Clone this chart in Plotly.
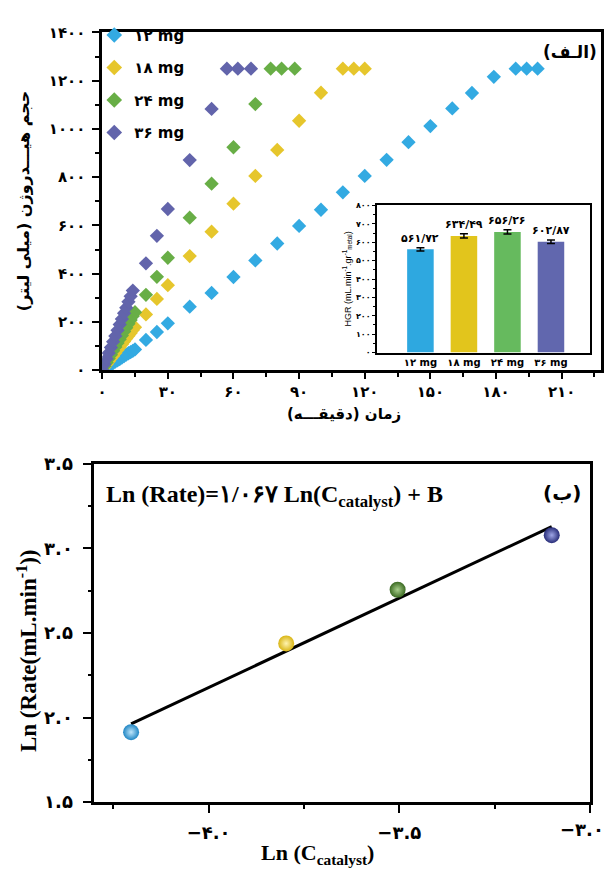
import numpy as np
import plotly.graph_objects as go

W, H = 606, 870

# ---------------- Top chart: hydrogen volume (mL) vs time (min) ----------------
t_12 = [0, 1, 2, 3, 4, 5, 6, 7, 8, 9, 10, 11, 12, 13, 14, 15, 20, 25, 30, 40, 50, 60,
        70, 80, 90, 100, 110, 120, 130, 140, 150, 160, 169, 179, 189, 194, 199]
v_12 = [0, 6, 12, 17, 23, 29, 35, 40, 46, 52, 58, 64, 70, 75, 80, 86, 125, 158, 194, 263, 320, 386,
        455, 525, 598, 665, 737, 805, 872, 945, 1012, 1085, 1149, 1216, 1250, 1250, 1250]

t_18 = [0, 1, 2, 3, 4, 5, 6, 7, 8, 9, 10, 11, 12, 13, 14, 15, 20, 25, 30, 40, 50, 60,
        70, 80, 90, 100, 110, 115, 120]
v_18 = [0, 12, 24, 36, 48, 59, 71, 83, 95, 107, 119, 131, 142, 154, 166, 178, 231, 295, 352, 473, 574, 690,
        805, 913, 1034, 1150, 1250, 1250, 1250]

t_24 = [0, 1, 2, 3, 4, 5, 6, 7, 8, 9, 10, 11, 12, 13, 14, 15, 20, 25, 30, 40, 50, 60,
        70, 77, 82, 88]
v_24 = [0, 16, 32, 48, 64, 80, 96, 112, 128, 144, 160, 176, 192, 208, 224, 240, 312, 387, 466, 632, 773, 924,
        1103, 1250, 1250, 1250]

t_36 = [0, 1, 2, 3, 4, 5, 6, 7, 8, 9, 10, 11, 12, 13, 14, 20, 25, 30, 40, 50, 57, 62, 68]
v_36 = [0, 24, 47, 71, 94, 118, 141, 165, 189, 212, 236, 259, 283, 306, 330, 443, 557, 668, 871, 1083,
        1250, 1250, 1250]

series_names = ["۱۲ mg", "۱۸ mg", "۲۴ mg", "۳۶ mg"]
series_colors = ["#33aae2", "#e6c62c", "#68ae46", "#6264ab"]

x_tickvals = [0, 30, 60, 90, 120, 150, 180, 210]
x_ticktext = ["۰", "۳۰", "۶۰", "۹۰", "۱۲۰", "۱۵۰", "۱۸۰", "۲۱۰"]
y_tickvals = [0, 200, 400, 600, 800, 1000, 1200, 1400]
y_ticktext = ["۰", "۲۰۰", "۴۰۰", "۶۰۰", "۸۰۰", "۱۰۰۰", "۱۲۰۰", "۱۴۰۰"]

# ---------------- Inset: HGR bar chart ----------------
hgr_pos = [0, 1, 2, 3]
hgr_cats = ["۱۲ mg", "۱۸ mg", "۲۴ mg", "۳۶ mg"]
hgr_vals = [561.72, 634.49, 656.26, 602.87]
hgr_err = [9, 12, 12, 10]
hgr_labels = ["۵۶۱/۷۲", "۶۳۴/۴۹", "۶۵۶/۲۶", "۶۰۲/۸۷"]
hgr_colors = ["#2ea8e0", "#e2c51c", "#66ba5e", "#6167ae"]
inset_tickvals = [0, 100, 200, 300, 400, 500, 600, 700, 800]
inset_ticktext = ["۰", "۱۰۰", "۲۰۰", "۳۰۰", "۴۰۰", "۵۰۰", "۶۰۰", "۷۰۰", "۸۰۰"]

# ---------------- Bottom chart: Ln(rate) vs Ln(C) ----------------
ln_c = [-4.2034, -3.7966, -3.5044, -3.1002]
ln_rate = [1.9135, 2.438, 2.7555, 3.078]
sphere_edge = ["#1f86c4", "#d9b514", "#3b6a22", "#272c78"]
sphere_center = ["#bfe6fb", "#fff4b0", "#a9d08c", "#9fa6e6"]
bx_tickvals = [-4.0, -3.5, -3.0]
bx_ticktext = ["−۴.۰", "−۳.۵", "−۳.۰"]
by_tickvals = [1.5, 2.0, 2.5, 3.0, 3.5]
by_ticktext = ["۱.۵", "۲.۰", "۲.۵", "۳.۰", "۳.۵"]

FA = "DejaVu Sans"
SERIF = "Liberation Serif"


def px_x(p):
    return p / W


def px_y(p):
    return 1 - p / H


fig = go.Figure()

for name, t, v, c in zip(series_names, [t_12, t_18, t_24, t_36], [v_12, v_18, v_24, v_36], series_colors):
    fig.add_trace(go.Scatter(
        x=t, y=v, mode="markers", name=name, legendgroup=name,
        marker=dict(symbol="diamond", size=11, color=c, line=dict(width=0)),
        xaxis="x", yaxis="y"))

# inset bars
fig.add_trace(go.Bar(
    x=hgr_pos, y=hgr_vals, width=0.61, marker=dict(color=hgr_colors, line=dict(width=0)),
    error_y=dict(type="data", array=hgr_err, color="black", thickness=1.5, width=4),
    xaxis="x3", yaxis="y3", showlegend=False))

# bottom chart: fitted line and points
slope, intercept = np.polyfit(ln_c, ln_rate, 1)
fit_x = [min(ln_c), max(ln_c)]
fit_y = [slope * x + intercept for x in fit_x]
fig.add_trace(go.Scatter(x=fit_x, y=fit_y, mode="lines", line=dict(color="black", width=3),
                         xaxis="x2", yaxis="y2", showlegend=False))
fig.add_trace(go.Scatter(
    x=ln_c, y=ln_rate, mode="markers",
    marker=dict(size=16, color=sphere_edge,
                gradient=dict(type="radial", color=sphere_center), line=dict(width=0)),
    xaxis="x2", yaxis="y2", showlegend=False))

common = dict(showline=True, linecolor="black", mirror=True, ticks="outside", tickcolor="black",
              showgrid=False, zeroline=False)


def ann(x, y, text, size, family, angle=0, xanchor="center", yanchor="middle", weight="bold"):
    return dict(x=px_x(x), y=px_y(y), xref="paper", yref="paper", text=text, showarrow=False,
                textangle=angle, xanchor=xanchor, yanchor=yanchor,
                font=dict(size=size, family=family, color="black", weight=weight))


annotations = []
for p, v, e, lab in zip(hgr_pos, hgr_vals, hgr_err, hgr_labels):
    annotations.append(dict(x=p, y=v + e, xref="x3", yref="y3", text=lab, showarrow=False,
                            xanchor="center", yanchor="bottom", yshift=1,
                            font=dict(size=11, family=FA, color="black", weight="bold")))

# last bottom x tick label sits at the page edge: place it so it stays inside the page
annotations.append(dict(x=bx_tickvals[-1], y=0, xref="x2", yref="y2 domain", text=bx_ticktext[-1],
                        showarrow=False, xanchor="right", yanchor="top", xshift=16, yshift=-15,
                        font=dict(size=18, family=FA, color="black", weight="bold")))

annotations += [
    ann(570, 42, "\u200f(الـف)\u200f", 17, FA),
    ann(18, 195, "\u200fحجم هیـــدروژن (میلی لیتر)\u200f", 16, FA, angle=-90),
    ann(342, 413, "\u200fزمان (دقیقـــه)\u200f", 15, FA),
    ann(345, 275, "HGR (mL.min<sup>-1</sup>.gr<sup>-1</sup><sub>metal</sub>)", 9, "Liberation Sans",
        angle=-90, weight="normal"),
    ann(100, 497, "Ln (Rate)=۱/۰۶۷ Ln(C<sub>catalyst</sub>) + B", 24, SERIF, xanchor="left"),
    ann(562, 494, "\u200f(ب)\u200f", 20, FA),
    ann(315, 864, "Ln (C<sub>catalyst</sub>)", 22, SERIF),
    ann(22, 655, "Ln (Rate(mL.min<sup>-1</sup>))", 23, SERIF, angle=-90),
]

fig.update_layout(
    width=W, height=H, margin=dict(l=0, r=0, t=0, b=0),
    paper_bgcolor="white", plot_bgcolor="white",
    showlegend=True,
    legend=dict(x=px_x(90), y=px_y(8), xanchor="left", yanchor="top", bgcolor="rgba(0,0,0,0)",
                font=dict(size=15, family=FA, color="black", weight="bold"),
                tracegroupgap=10, itemsizing="constant"),
    xaxis=dict(domain=[px_x(98), px_x(601)], range=[0, 228], anchor="y",
               tickvals=x_tickvals, ticktext=x_ticktext, linewidth=2.5, ticklen=6, tickwidth=2,
               minor=dict(dtick=15, ticks="outside", ticklen=4, tickwidth=2, tickcolor="black"),
               tickfont=dict(size=15, family=FA, color="black", weight="bold"), **common),
    yaxis=dict(domain=[px_y(368), px_y(22)], range=[0, 1400], anchor="x",
               tickvals=y_tickvals, ticktext=y_ticktext, linewidth=2.5, ticklen=7, tickwidth=2,
               ticklabelstandoff=4,
               minor=dict(dtick=100, ticks="outside", ticklen=4, tickwidth=2, tickcolor="black"),
               tickfont=dict(size=15, family=FA, color="black", weight="bold"), **common),
    xaxis2=dict(domain=[px_x(90), px_x(590)], range=[-4.3, -2.9995], anchor="y2",
                tickvals=bx_tickvals, ticktext=bx_ticktext[:-1] + [""], linewidth=2.5, ticklen=8, tickwidth=2,
                ticklabelstandoff=5,
                minor=dict(dtick=0.25, tick0=-4.0, ticks="outside", ticklen=4, tickwidth=2, tickcolor="black"),
                tickfont=dict(size=18, family=FA, color="black", weight="bold"), **common),
    yaxis2=dict(domain=[px_y(810.7), px_y(464)], range=[1.5, 3.5], anchor="x2",
                tickvals=by_tickvals, ticktext=by_ticktext, linewidth=2.5, ticklen=9, tickwidth=2,
                ticklabelstandoff=6,
                minor=dict(dtick=0.25, tick0=1.5, ticks="outside", ticklen=4, tickwidth=2, tickcolor="black"),
                tickfont=dict(size=18, family=FA, color="black", weight="bold"), **common),
    xaxis3=dict(domain=[px_x(375), px_x(590)], range=[-1.0, 3.9], anchor="y3",
                tickvals=hgr_pos, ticktext=hgr_cats, linewidth=1.5, ticklen=0,
                tickfont=dict(size=10, family=FA, color="black", weight="bold"),
                showline=True, linecolor="black", mirror=True, showgrid=False, zeroline=False),
    yaxis3=dict(domain=[px_y(350), px_y(199.3)], range=[0, 800], anchor="x3",
                tickvals=inset_tickvals, ticktext=inset_ticktext, linewidth=1.5, ticklen=3, tickwidth=1,
                minor=dict(dtick=50, ticks="outside", ticklen=2, tickwidth=1, tickcolor="black"),
                tickfont=dict(size=8, family=FA, color="black", weight="bold"), **common),
    annotations=annotations,
)

fig.write_html("out.html")
